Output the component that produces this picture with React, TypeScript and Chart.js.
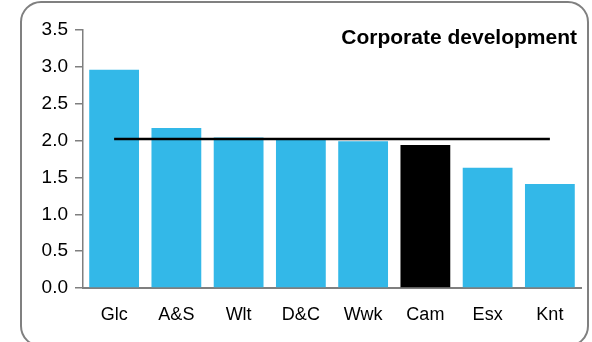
import React, { useEffect, useRef } from "react";
import { Chart, registerables } from "chart.js";

Chart.register(...registerables);

const categories = ["Glc", "A&S", "Wlt", "D&C", "Wwk", "Cam", "Esx", "Knt"];
const values = [2.96, 2.17, 2.04, 2.02, 1.99, 1.94, 1.63, 1.41];
const averageValue = 2.02;
const highlighted = "Cam";
const yTicks = [0, 0.5, 1, 1.5, 2, 2.5, 3, 3.5];
const title = "Corporate development";

const BLUE = "#33B8E8";
const GREY = "#7f7f7f";
const FONT = "'Liberation Sans', Arial, sans-serif";

const decorPlugin = {
  id: "decor",
  beforeDraw(chart: any) {
    const ctx = chart.ctx;
    ctx.save();
    ctx.fillStyle = "#ffffff";
    ctx.fillRect(0, 0, chart.width, chart.height);
    ctx.strokeStyle = "#808080";
    ctx.lineWidth = 2;
    ctx.beginPath();
    (ctx as any).roundRect(21, 2, 567, 344, 20);
    ctx.stroke();
    ctx.restore();
  },
  afterDraw(chart: any) {
    const ctx = chart.ctx;
    ctx.save();
    ctx.font = `bold 21px ${FONT}`;
    ctx.fillStyle = "#000";
    ctx.textAlign = "right";
    ctx.textBaseline = "alphabetic";
    ctx.fillText(title, 577, 44);
    ctx.restore();
  },
};

export default function App() {
  const ref = useRef<HTMLCanvasElement>(null);
  useEffect(() => {
    if (!ref.current) return;
    const chart = new Chart(ref.current, {
      type: "bar",
      data: {
        labels: categories,
        datasets: [
          {
            type: "line",
            data: categories.map(() => averageValue),
            borderColor: "#000",
            borderWidth: 2.5,
            pointRadius: 0,
            order: 0,
          } as any,
          {
            type: "bar",
            data: values,
            backgroundColor: categories.map((c) => (c === highlighted ? "#000" : BLUE)),
            barPercentage: 0.8,
            categoryPercentage: 1,
            order: 1,
          },
        ],
      },
      options: {
        animation: false,
        responsive: false,
        layout: { padding: { top: 30, right: 11, left: 0, bottom: 0 } },
        plugins: { legend: { display: false }, tooltip: { enabled: false } },
        scales: {
          x: {
            grid: { display: false, drawTicks: false },
            border: { display: true, color: GREY, width: 2 },
            ticks: { color: "#000", font: { family: FONT, size: 18 }, padding: 16 },
            afterFit(scale: any) {
              scale.height = 54;
            },
          },
          y: {
            min: 0,
            max: 3.5,
            afterBuildTicks(scale: any) {
              scale.ticks = yTicks.map((v) => ({ value: v }));
            },
            grid: { drawOnChartArea: false, drawTicks: true, tickLength: 8, color: GREY, lineWidth: 1.5 },
            border: { display: true, color: GREY, width: 1.5 },
            ticks: {
              color: "#000",
              font: { family: FONT, size: 19 },
              padding: 7,
              callback: (v: any) => Number(v).toFixed(1),
            },
            afterFit(scale: any) {
              scale.width = 83;
            },
          },
        },
      },
      plugins: [decorPlugin],
    });
    return () => chart.destroy();
  }, []);
  return (
    <div style={{ position: "absolute", left: 0, top: 0, width: 592, height: 342 }}>
      <canvas ref={ref} width={592} height={342} style={{ width: 592, height: 342, display: "block" }} />
    </div>
  );
}
